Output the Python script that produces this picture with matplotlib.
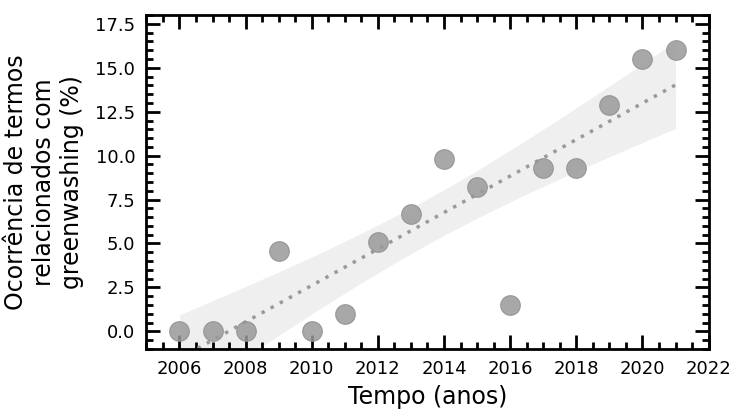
import numpy as np
import matplotlib
matplotlib.use("Agg")
import matplotlib.pyplot as plt
from matplotlib.ticker import MultipleLocator

anos = [2006, 2007, 2008, 2009, 2010, 2011, 2012, 2013,
        2014, 2015, 2016, 2017, 2018, 2019, 2020, 2021]
ocorrencia = [0.0, 0.0, 0.0, 4.6, 0.0, 1.0, 5.1, 6.7,
              9.8, 8.2, 1.5, 9.3, 9.3, 12.9, 15.5, 16.0]

x = np.array(anos, dtype=float)
y = np.array(ocorrencia)

# ajuste linear + intervalo de confiança (~95%)
b, a = np.polyfit(x, y, 1)
xs = np.linspace(x.min(), x.max(), 100)
ys = a + b * xs
n = len(x)
res = y - (a + b * x)
s = np.sqrt(np.sum(res ** 2) / (n - 2))
sxx = np.sum((x - x.mean()) ** 2)
t = 1.9
half = t * s * np.sqrt(1 / n + (xs - x.mean()) ** 2 / sxx)

fig, ax = plt.subplots(figsize=(7.32, 4.09), dpi=100)
fig.subplots_adjust(left=0.2, right=0.968, top=0.963, bottom=0.147)

ax.fill_between(xs, ys - half, ys + half, color="#ebebeb", alpha=0.8, lw=0)
ax.scatter(x, y, s=200, color="#999999", alpha=0.85, zorder=3,
           edgecolor="#8f8f8f", lw=0.8)
ax.plot(xs, ys, ls=(0, (1, 2)), color="#9a9a9a", lw=2.5, zorder=2)

ax.set_xlim(2005, 2022)
ax.set_ylim(-1, 18)
ax.xaxis.set_major_locator(MultipleLocator(2))
ax.xaxis.set_minor_locator(MultipleLocator(0.5))
ax.yaxis.set_major_locator(MultipleLocator(2.5))
ax.yaxis.set_minor_locator(MultipleLocator(0.5))

ax.tick_params(which="both", direction="in", top=True, right=True, labelsize=13, width=2)
ax.tick_params(which="major", length=10, pad=8)
ax.tick_params(which="minor", length=5)
for sp in ax.spines.values():
    sp.set_linewidth(2)

ax.set_xlabel("Tempo (anos)", fontsize=17, labelpad=5)
ax.set_ylabel("Ocorrência de termos\nrelacionados com\ngreenwashing (%)",
              fontsize=17, labelpad=8)

plt.savefig("out.png", dpi=100)
